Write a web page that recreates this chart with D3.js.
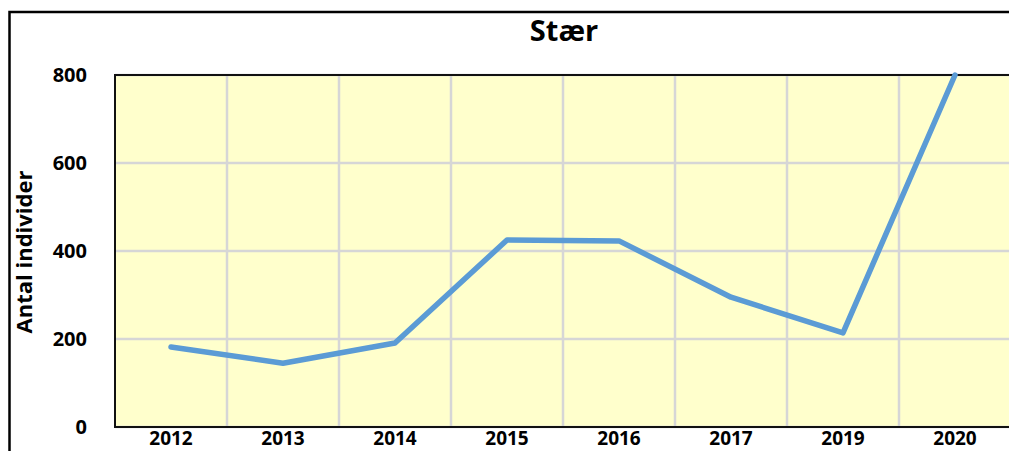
<!doctype html>
<html>
<head>
  <meta charset="utf-8">
  <style>
    html, body { margin:0; padding:0; background:#fff; overflow:hidden; }
    text { font-family:"Open Sans", "Liberation Sans", sans-serif; font-weight:bold; fill:#000; }
  </style>
  <script src="https://d3js.org/d3.v7.min.js"></script>
</head>
<body>
  <script type="text/javascript">
    // chart data
    var years = ["2012", "2013", "2014", "2015", "2016", "2017", "2019", "2020"];
    var counts = [182, 145, 191, 425, 423, 295, 214, 800];
    var yTicks = [0, 200, 400, 600, 800];
    var title = "Stær";
    var yTitle = "Antal individer";

    var W = 1009, H = 451;
    var plot = {left:115, top:75, right:1011, bottom:427};

    var svg = d3.select("body")
      .append("svg")
        .attr("width", W)
        .attr("height", H);

    // outer chart frame
    svg.append("rect")
      .attr("x", 9.5)
      .attr("y", 12)
      .attr("width", W + 20)
      .attr("height", H + 20)
      .attr("fill", "#fff")
      .attr("stroke", "#000")
      .attr("stroke-width", 2.5);

    var x = d3.scaleBand()
      .domain(years)
      .range([plot.left, plot.right])
      .padding(0);

    var y = d3.scaleLinear()
      .domain([0, 800])
      .range([plot.bottom, plot.top]);

    // plot background
    svg.append("rect")
      .attr("x", plot.left)
      .attr("y", plot.top)
      .attr("width", plot.right - plot.left)
      .attr("height", plot.bottom - plot.top)
      .attr("fill", "#ffffcc");

    // horizontal gridlines
    svg.append("g")
      .selectAll("line")
      .data(yTicks)
      .join("line")
        .attr("x1", plot.left)
        .attr("x2", plot.right)
        .attr("y1", function(d) { return y(d); })
        .attr("y2", function(d) { return y(d); })
        .attr("stroke", "#d6d6d6")
        .attr("stroke-width", 2.5);

    // vertical gridlines between categories
    svg.append("g")
      .selectAll("line")
      .data(years.slice(1))
      .join("line")
        .attr("x1", function(d) { return x(d); })
        .attr("x2", function(d) { return x(d); })
        .attr("y1", plot.top)
        .attr("y2", plot.bottom)
        .attr("stroke", "#d6d6d6")
        .attr("stroke-width", 2.5);

    // plot border (left, top, bottom)
    svg.append("path")
      .attr("d", "M" + plot.right + "," + plot.top + "H" + plot.left + "V" + plot.bottom + "H" + plot.right)
      .attr("fill", "none")
      .attr("stroke", "#111")
      .attr("stroke-width", 2);

    // y axis labels
    svg.append("g")
      .selectAll("text")
      .data(yTicks)
      .join("text")
        .attr("x", 87)
        .attr("y", function(d) { return y(d); })
        .attr("dy", "0.36em")
        .attr("text-anchor", "end")
        .style("font-size", "20px")
        .text(function(d) { return d; });

    // x axis labels
    svg.append("g")
      .selectAll("text")
      .data(years)
      .join("text")
        .attr("x", function(d) { return x(d) + x.bandwidth() / 2; })
        .attr("y", 445)
        .attr("text-anchor", "middle")
        .style("font-size", "19px")
        .text(function(d) { return d; });

    // series line
    var line = d3.line()
      .x(function(d, i) { return x(years[i]) + x.bandwidth() / 2; })
      .y(function(d) { return y(d); });

    svg.append("path")
      .datum(counts)
      .attr("d", line)
      .attr("fill", "none")
      .attr("stroke", "#5b9bd5")
      .attr("stroke-width", 5.5)
      .attr("stroke-linejoin", "round")
      .attr("stroke-linecap", "round");

    // titles
    svg.append("text")
      .attr("x", 564)
      .attr("y", 41)
      .attr("text-anchor", "middle")
      .style("font-size", "29px")
      .text(title);

    svg.append("text")
      .attr("transform", "translate(32,252) rotate(-90)")
      .attr("text-anchor", "middle")
      .style("font-size", "22px")
      .text(yTitle);
  </script>
</body>
</html>
